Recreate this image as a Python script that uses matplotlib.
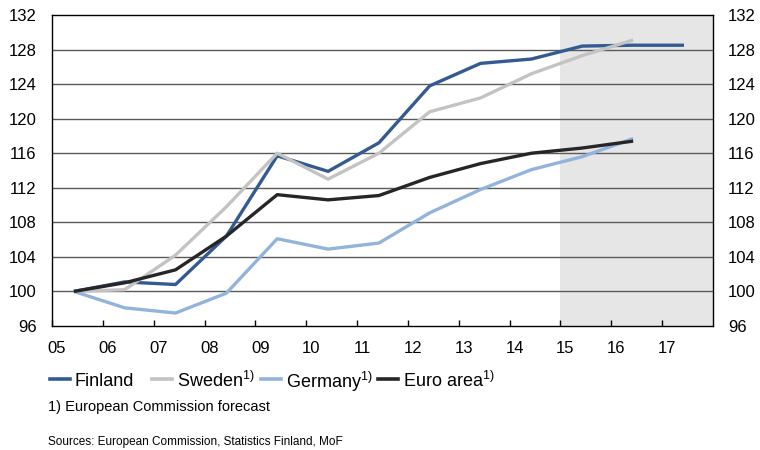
"""Price index 2005 = 100: Finland, Sweden, Germany and the euro area."""

import matplotlib.pyplot as plt
import matplotlib.transforms as mtransforms
from matplotlib.lines import Line2D

plt.rcParams['font.family'] = ['Liberation Sans', 'DejaVu Sans']
plt.rcParams['mathtext.fontset'] = 'custom'
plt.rcParams['mathtext.rm'] = 'Liberation Sans'

# Years 2005-2017, index 2005 = 100
years = ['05', '06', '07', '08', '09', '10', '11', '12', '13', '14', '15', '16', '17']
finland = [100, 101.1, 100.8, 106.4, 115.7, 113.9, 117.2, 123.8, 126.4, 126.9, 128.4, 128.5, 128.5]
sweden = [100, 100.2, 104.2, 109.8, 116.0, 113.0, 116.0, 120.8, 122.4, 125.2, 127.3, 129.1]
germany = [100, 98.1, 97.5, 99.8, 106.1, 104.9, 105.6, 109.1, 111.8, 114.1, 115.6, 117.7]
euro_area = [100, 101.0, 102.5, 106.4, 111.2, 110.6, 111.1, 113.2, 114.8, 116.0, 116.6, 117.4]
forecast_start = 10  # 2015 onwards

y_ticks = list(range(96, 133, 4))

colors = {
    'Finland': '#335a92',
    'Sweden': '#c3c3c3',
    'Germany': '#92b4dc',
    'Euro area': '#262626',
}

fig = plt.figure(figsize=(7.6, 4.5), dpi=100)
ax = fig.add_axes([0.0684, 0.2756, 0.8697, 0.6911])

# forecast period
ax.axvspan(forecast_start, len(years), color='#e5e6e5', zorder=0, lw=0)

# horizontal gridlines
for v in y_ticks[1:-1]:
    ax.axhline(v, color='#5a5a5a', lw=1.0, zorder=1)

offset = 0.43  # observations sit inside each year
series = [('Finland', finland), ('Sweden', sweden),
          ('Germany', germany), ('Euro area', euro_area)]
for name, vals in series:
    xs = [i + offset for i in range(len(vals))]
    ax.plot(xs, vals, color=colors[name], lw=2.4, zorder=3,
            solid_capstyle='butt', solid_joinstyle='round')

ax.set_xlim(0, len(years))
ax.set_ylim(96, 132)

ax.set_xticks(range(len(years)))
ax.set_xticklabels(years)
ax.tick_params(axis='x', direction='in', length=4, width=1, pad=11,
               labelsize=12, color='black')
shift = mtransforms.ScaledTranslation(5 / 100, 0, fig.dpi_scale_trans)
for lbl in ax.get_xticklabels():
    lbl.set_transform(lbl.get_transform() + shift)

ax.set_yticks(y_ticks)
ax.tick_params(axis='y', length=0, labelsize=12, pad=11,
               left=True, right=True, labelleft=True, labelright=True)

for s in ax.spines.values():
    s.set_color('black')
    s.set_linewidth(1.0)

# legend row
legend_items = [('Finland', 'Finland', 50),
                ('Sweden', r'Sweden$^{\mathrm{1)}}$', 152),
                ('Germany', r'Germany$^{\mathrm{1)}}$', 261),
                ('Euro area', r'Euro area$^{\mathrm{1)}}$', 378)]
ly = 1 - 379 / 450
for key, label, px in legend_items:
    x0 = px / 760
    fig.add_artist(Line2D([x0, x0 + 20 / 760], [ly, ly],
                          color=colors[key], lw=2.6,
                          transform=fig.transFigure))
    fig.text(x0 + 25 / 760, ly, label, fontsize=13, va='center_baseline',
             ha='left')

fig.text(48 / 760, 1 - 407 / 450, '1) European Commission forecast',
         fontsize=10.5, va='center')
fig.text(48 / 760, 1 - 442 / 450,
         'Sources: European Commission, Statistics Finland, MoF',
         fontsize=8.5, va='center')

fig.savefig('out.png', dpi=100)
